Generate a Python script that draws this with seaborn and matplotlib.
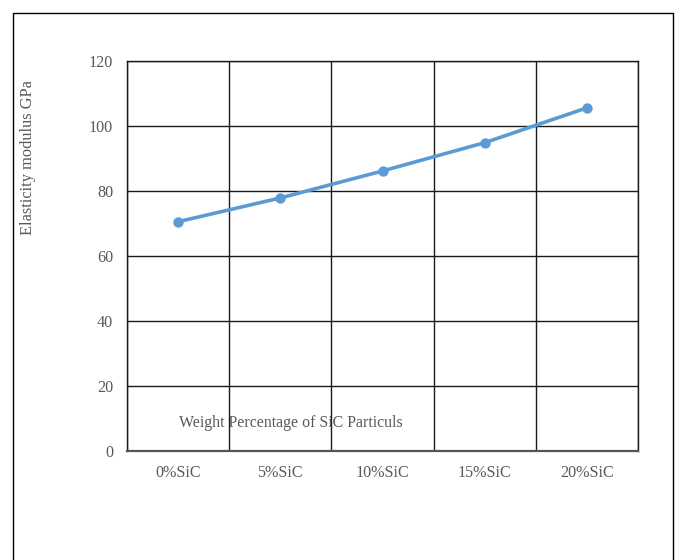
import matplotlib
matplotlib.use("Agg")
import matplotlib.pyplot as plt
from matplotlib.lines import Line2D
from matplotlib.ticker import FixedLocator
import seaborn as sns
import pandas as pd

categories = ["0%SiC", "5%SiC", "10%SiC", "15%SiC", "20%SiC"]
modulus_gpa = [70.5, 77.8, 86.1, 94.8, 105.5]
y_ticks = [0, 20, 40, 60, 80, 100, 120]

sns.set_theme(style="white")
plt.rcParams["font.family"] = ["Liberation Serif", "DejaVu Serif"]

W, H = 681, 560
fig = plt.figure(figsize=(W / 100, H / 100), dpi=100)
ax = fig.add_axes([127 / W, 1 - 451 / H, (638 - 127) / W, (451 - 60.7) / H])

df = pd.DataFrame({"cat": categories, "val": modulus_gpa})
sns.pointplot(data=df, x="cat", y="val", color="#5B9BD5", markers="o",
              linewidth=2.6, markersize=5.5, ax=ax, zorder=5)

ax.set_xlim(-0.5, len(categories) - 0.5)
ax.set_ylim(0, 120)
ax.set_yticks(y_ticks)
ax.xaxis.set_minor_locator(FixedLocator([i + 0.5 for i in range(-1, len(categories))]))
ax.grid(True, axis="y", which="major", color="#1a1a1a", linewidth=1.0)
ax.grid(True, axis="x", which="minor", color="#1a1a1a", linewidth=1.0)
ax.grid(False, axis="x", which="major")
ax.set_axisbelow(True)

for side in ["top", "left", "right"]:
    ax.spines[side].set_color("#1a1a1a")
    ax.spines[side].set_linewidth(1.0)
ax.spines["bottom"].set_color("#555555")
ax.spines["bottom"].set_linewidth(1.6)

ax.tick_params(axis="both", which="both", length=0, labelsize=11.6, labelcolor="#595959")
ax.tick_params(axis="y", pad=10)
ax.tick_params(axis="x", pad=10)
ax.set_xlabel("")
ax.set_ylabel("")

ax.text(0.321, 0.072, "Weight Percentage of SiC Particuls", transform=ax.transAxes,
        ha="center", va="center", fontsize=11.4, color="#595959")

fig.text(28 / W, 1 - 158 / H, "Elasticity modulus GPa", rotation=90,
         ha="center", va="center", fontsize=11.8, color="#595959")

# outer chart frame (open at the bottom)
frame_kw = dict(transform=fig.transFigure, color="#000000", linewidth=1.0)
l, r, t = 12.5 / W, 672.5 / W, 1 - 12.5 / H
fig.add_artist(Line2D([l, r], [t, t], **frame_kw))
fig.add_artist(Line2D([l, l], [0, t], **frame_kw))
fig.add_artist(Line2D([r, r], [0, t], **frame_kw))

fig.savefig("out.png", dpi=100, facecolor="white")
